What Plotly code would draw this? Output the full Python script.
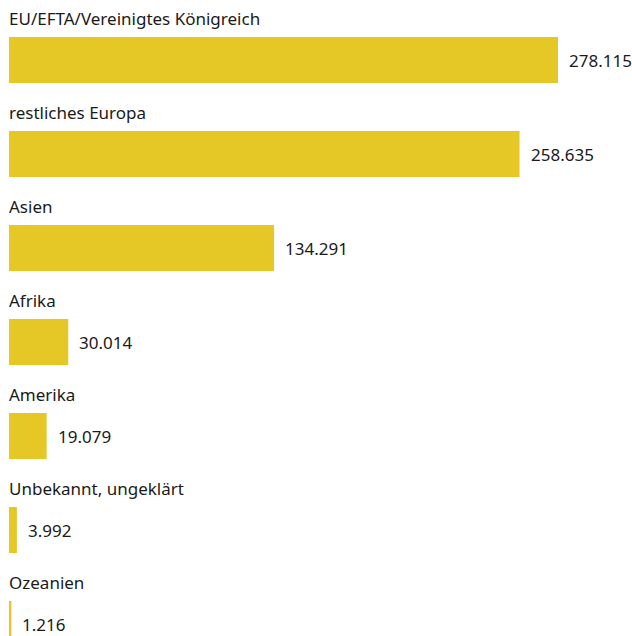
import plotly.graph_objects as go

categories = [
    "EU/EFTA/Vereinigtes Königreich",
    "restliches Europa",
    "Asien",
    "Afrika",
    "Amerika",
    "Unbekannt, ungeklärt",
    "Ozeanien",
]
values = [278115, 258635, 134291, 30014, 19079, 3992, 1216]
value_labels = ["278.115", "258.635", "134.291", "30.014", "19.079", "3.992", "1.216"]

BAR_COLOR = "#E5C826"
TEXT_COLOR = "#1a1a1a"
FONT = "Noto Sans"

rows = list(range(len(categories)))

fig = go.Figure(
    go.Bar(
        x=values,
        y=rows,
        orientation="h",
        width=0.49,
        marker=dict(color=BAR_COLOR, line=dict(width=0)),
        hoverinfo="skip",
    )
)

annotations = []
for i, (cat, val, lab) in enumerate(zip(categories, values, value_labels)):
    annotations.append(dict(
        x=0, y=i, xref="x", yref="y", text=cat, showarrow=False,
        xanchor="left", yanchor="middle", xshift=-2, yshift=42,
        font=dict(family=FONT, size=17, color=TEXT_COLOR),
    ))
    annotations.append(dict(
        x=val, y=i, xref="x", yref="y", text=lab, showarrow=False,
        xanchor="left", yanchor="middle", xshift=9,
        font=dict(family=FONT, size=17, color=TEXT_COLOR),
    ))

fig.update_layout(
    width=632, height=636,
    margin=dict(l=9, r=0, t=0, b=0),
    paper_bgcolor="white", plot_bgcolor="white",
    showlegend=False,
    annotations=annotations,
    xaxis=dict(range=[0, 278115 * 623 / 549], visible=False, fixedrange=True),
    yaxis=dict(range=[(636 - 60) / 94, -60 / 94], visible=False, fixedrange=True),
)

fig.write_html("out.html")
